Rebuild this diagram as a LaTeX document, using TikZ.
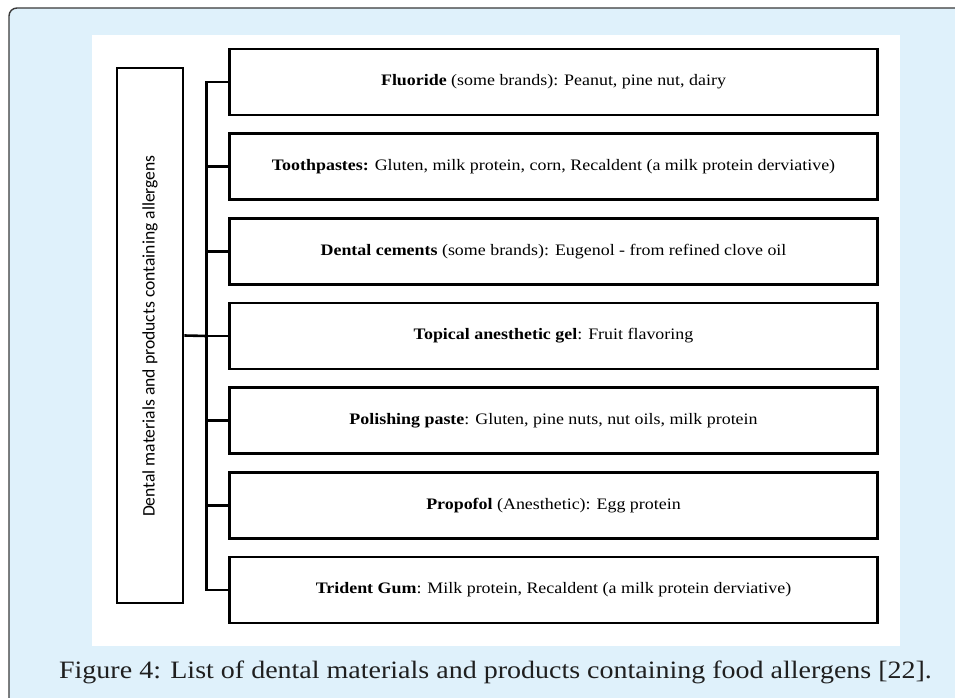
\documentclass[tikz,border=0pt]{standalone}
\usepackage{fontspec}
\setmainfont{Liberation Serif}[FakeStretch=1.12]
\newfontfamily\labelsans{Carlito}
\definecolor{panelblue}{HTML}{DFF1FB}
\definecolor{panelrim}{HTML}{3A3A3A}
\begin{document}
\begin{tikzpicture}[x=1pt,y=-1pt,
  item/.style={draw=black,line width=2.6pt,fill=white,minimum width=648pt,minimum height=66pt,
    inner sep=0pt,font=\fontsize{16}{18}\selectfont,anchor=center},
  rootbox/.style={draw=black,line width=2.6pt,fill=white,minimum width=66pt,minimum height=535pt,inner sep=0pt},
  link/.style={draw=black,line width=2.6pt}]
\useasboundingbox (0,0) rectangle (955,698);
% framed panel
\draw[panelrim,line width=1.4pt,fill=panelblue,rounded corners=8pt] (9,8) rectangle (985,730);
\fill[white] (92,35) rectangle (900,645.5);
% left label box
\node[rootbox] (root) at (150,335.5) {};
\node[rotate=90,font=\labelsans\fontsize{17.6}{20}\selectfont] (rootlbl) at (150,336) {Dental materials and products containing allergens};
% item boxes
\node[item] (b1) at (553.5,82) {\textbf{Fluoride} (some brands): Peanut, pine nut, dairy};
\node[item] (b2) at (553.5,166.7) {\textbf{Toothpastes:} Gluten, milk protein, corn, Recaldent (a milk protein derviative)};
\node[item] (b3) at (553.5,251.3) {\textbf{Dental cements} (some brands): Eugenol - from refined clove oil};
\node[item] (b4) at (553.5,336) {\textbf{Topical anesthetic gel}: Fruit flavoring};
\node[item] (b5) at (553.5,420.7) {\textbf{Polishing paste}: Gluten, pine nuts, nut oils, milk protein};
\node[item] (b6) at (553.5,505.3) {\textbf{Propofol} (Anesthetic): Egg protein};
\node[item] (b7) at (553.5,590) {\textbf{Trident Gum}: Milk protein, Recaldent (a milk protein derviative)};
% connectors
\coordinate (trunk) at (206.5,336);
\draw[link] (root.east) -- (trunk);
\draw[link,line cap=rect] (trunk |- b1.west) -- (trunk |- b7.west);
\foreach \i in {1,...,7}{\draw[link] (trunk |- b\i.west) -- (b\i.west);}
% caption
\node[font=\fontsize{25}{28}\selectfont,text=black!88] (cap) at (495.5,672) {Figure 4: List of dental materials and products containing food allergens [22].};
\end{tikzpicture}
\end{document}
